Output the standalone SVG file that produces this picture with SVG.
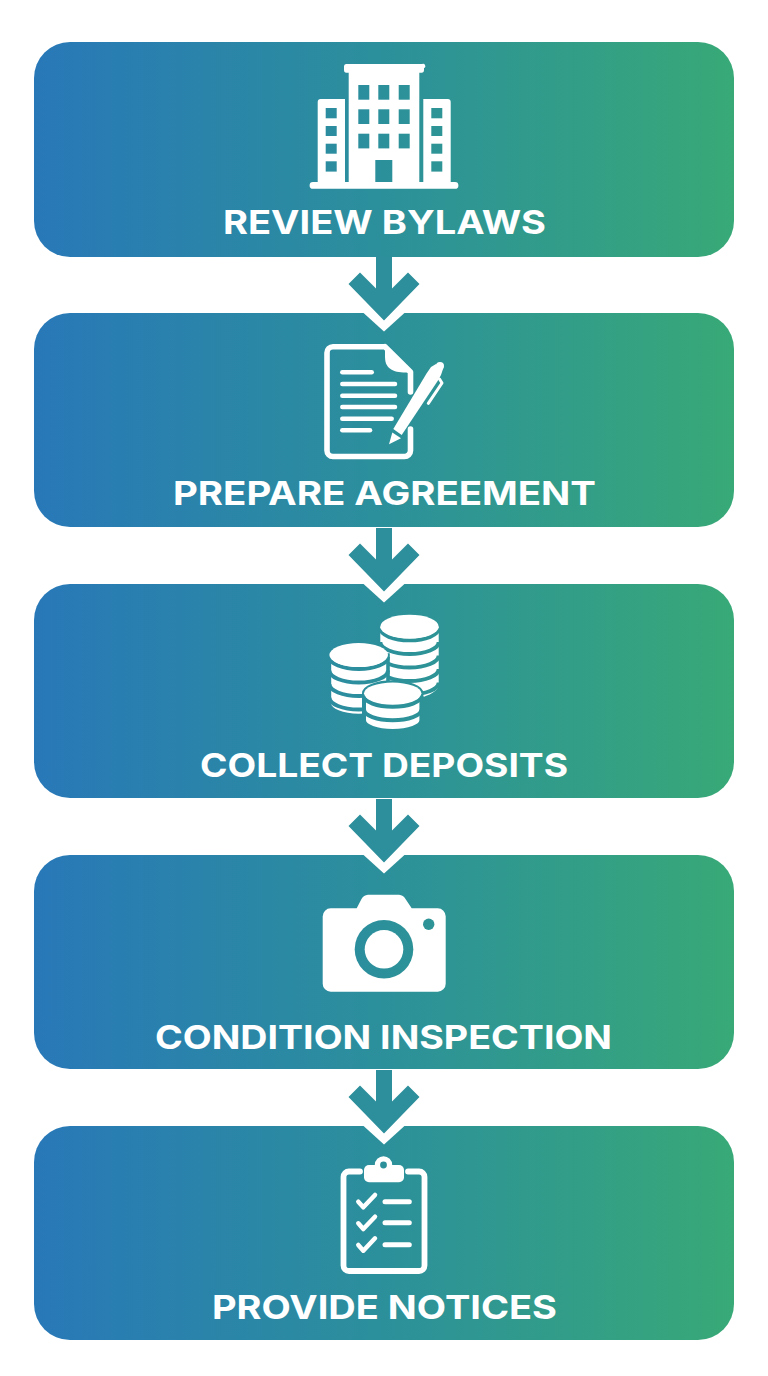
<svg xmlns="http://www.w3.org/2000/svg" xmlns:xlink="http://www.w3.org/1999/xlink" width="768" height="1376" viewBox="0 0 768 1376">
<style>
.box{fill:url(#g)}
.w{fill:#fff}
.t{fill:url(#g)}
.ln{fill:none;stroke:#fff;stroke-linecap:round;stroke-linejoin:round}
.gap{fill:none;stroke:url(#g);stroke-width:4}
.label{font-family:"Inter","Liberation Sans",sans-serif;font-weight:700;font-size:33px;fill:#fff;text-anchor:middle}
.arrow{fill:#2c8f9b}
</style>
<defs>
<linearGradient id="g" gradientUnits="userSpaceOnUse" x1="34" y1="0" x2="734" y2="0">
<stop offset="0" stop-color="#2878b8"/><stop offset="0.5" stop-color="#2c909b"/><stop offset="1" stop-color="#38a977"/>
</linearGradient>
<g id="arr">
<path fill="#fff" d="M363 312.500L384 331.500L405 312.500Z"/>
<path class="arrow" d="M376 257H392V288.500L408 272.500L419.500 284L384 320.500L348.500 284L360 272.500L376 288.500Z"/>
</g>
</defs>
<rect width="768" height="1376" fill="#fff"/>

<g id="node-review-bylaws">
<rect class="box" x="34" y="42" width="700" height="215" rx="36"/>
<path class="w" d="M346 64H422a2.300 2.300 0 0 1 2 4.300v2a2.300 2.300 0 0 1-2 2.400h-2.700V182H423.300V99H447.700a3 3 0 0 1 3 3V182H455a3.400 3.400 0 0 1 0 6.800H313a3.400 3.400 0 0 1 0-6.800H317.700V102a3 3 0 0 1 3-3H345V182H348.700V72.700H346a2.300 2.300 0 0 1-2-2.400v-4a2.300 2.300 0 0 1 2-2.300Z"/>
<g class="t">
<rect x="358.300" y="85" width="11" height="14.700"/><rect x="378.300" y="85" width="11" height="14.700"/><rect x="398.700" y="85" width="11" height="14.700"/>
<rect x="358.300" y="109.300" width="11" height="14.700"/><rect x="378.300" y="109.300" width="11" height="14.700"/><rect x="398.700" y="109.300" width="11" height="14.700"/>
<rect x="358.300" y="133.700" width="11" height="14.700"/><rect x="378.300" y="133.700" width="11" height="14.700"/><rect x="398.700" y="133.700" width="11" height="14.700"/>
<rect x="375.300" y="160" width="17" height="22"/>
<rect x="325.700" y="108" width="11" height="10.300"/><rect x="325.700" y="126" width="11" height="10"/><rect x="325.700" y="143.700" width="11" height="10"/><rect x="325.700" y="161.300" width="11" height="10.300"/>
<rect x="431.300" y="108" width="11" height="10.300"/><rect x="431.300" y="126" width="11" height="10"/><rect x="431.300" y="143.700" width="11" height="10"/><rect x="431.300" y="161.300" width="11" height="10.300"/>
</g>
<text class="label" x="384.500" y="234" textLength="323" lengthAdjust="spacingAndGlyphs">REVIEW BYLAWS</text>
</g>

<g id="node-prepare-agreement">
<rect class="box" x="34" y="313" width="700" height="214" rx="36"/>
<path class="ln" stroke-width="5.600" d="M385 346.800H333a6 6 0 0 0-6 6V450.500a6 6 0 0 0 6 6H404.500a6 6 0 0 0 6-6V429M410.500 392V372L385 346.800"/>
<path class="w" d="M385 346L412.500 372.500C398 373 385 372 385 357Z"/>
<g class="ln" stroke-width="4.500">
<path d="M342.300 372.300H371.700"/><path d="M342.300 384H395"/><path d="M342.300 395.700H395"/><path d="M342.300 407H395"/><path d="M342.300 418.700H391.700"/><path d="M342.300 430.300H370"/>
</g>
<path class="w" d="M393.300 429L401.700 435L438.300 380L441 375L443 369L436 364L431 367L426.700 373.300Z"/>
<path class="w" d="M389 444.300L392.300 432.500L401 438.300Z"/>
<circle class="w" cx="440" cy="366" r="4"/>
<path class="ln" stroke-width="3" d="M428.300 403.300L442 383L439.500 379"/>
<text class="label" x="384.500" y="505" textLength="423" lengthAdjust="spacingAndGlyphs">PREPARE AGREEMENT</text>
</g>

<g id="node-collect-deposits">
<rect class="box" x="34" y="584" width="700" height="214" rx="36"/>
<path class="w" d="M380.300 626.700H438.700V684C438.700 690 432 694 424 696.700L380.300 690Z"/>
<g class="gap">
<path d="M380.300 628.300A29.200 12 0 0 0 438.700 628.300"/><path d="M380.300 642A29.200 12 0 0 0 438.700 642"/><path d="M380.300 655.500A29.200 12 0 0 0 438.700 655.500"/><path d="M380.300 669A29.200 12 0 0 0 438.700 669"/><path d="M380.300 682.500A29.200 12 0 0 0 438.700 682.500"/>
</g>
<ellipse class="w" cx="409.500" cy="626.700" rx="29.200" ry="12"/>
<path class="w" stroke="url(#g)" stroke-width="3.600" d="M329.400 655V703.500A29.300 12 0 0 0 388 703.500V655Z"/>
<g class="gap">
<path d="M329.400 657A29.300 12 0 0 0 388 657"/><path d="M329.400 670.500A29.300 12 0 0 0 388 670.500"/><path d="M329.400 684A29.300 12 0 0 0 388 684"/><path d="M329.400 697.500A29.300 12 0 0 0 388 697.500"/>
</g>
<ellipse class="w" cx="358.700" cy="655" rx="29.300" ry="12"/>
<path class="w" stroke="url(#g)" stroke-width="4" d="M364 693.300V720.300A28.700 10.700 0 0 0 421.400 720.300V693.300A28.700 11 0 0 0 364 693.300Z"/>
<g class="gap">
<path d="M364 696A28.700 10.700 0 0 0 421.400 696"/><path d="M364 709.500A28.700 10.700 0 0 0 421.400 709.500"/>
</g>
<ellipse class="w" cx="392.700" cy="693.300" rx="28.700" ry="10.700"/>
<text class="label" x="384" y="777" textLength="368" lengthAdjust="spacingAndGlyphs">COLLECT DEPOSITS</text>
</g>

<g id="node-condition-inspection">
<rect class="box" x="34" y="855" width="700" height="214" rx="36"/>
<path class="w" d="M331 908.300H356.700L361.500 899A8 8 0 0 1 368 894.800H399A8 8 0 0 1 405.500 899L411.700 908.300H437.700a8 8 0 0 1 8 8V983.700a8 8 0 0 1-8 8H330.700a8 8 0 0 1-8-8V916.300a8 8 0 0 1 8-8Z"/>
<circle class="t" cx="384" cy="949.300" r="29.300"/>
<circle class="w" cx="384" cy="949.300" r="19.300"/>
<circle class="t" cx="428.700" cy="924.300" r="5.700"/>
<text class="label" x="383.500" y="1049" textLength="457" lengthAdjust="spacingAndGlyphs">CONDITION INSPECTION</text>
</g>

<g id="node-provide-notices">
<rect class="box" x="34" y="1126" width="700" height="214" rx="36"/>
<path class="ln" stroke-width="5.800" d="M360 1171.500H349a5.500 5.500 0 0 0-5.500 5.500V1265.500a5.500 5.500 0 0 0 5.500 5.500H419a5.500 5.500 0 0 0 5.500-5.500V1177a5.500 5.500 0 0 0-5.500-5.500H408"/>
<rect class="w" x="364" y="1165" width="40" height="17.300" rx="5"/>
<circle class="w" cx="383.500" cy="1165" r="8.700"/>
<circle class="t" cx="383.500" cy="1165" r="3.400"/>
<g class="ln" stroke-width="4.500">
<path d="M358.300 1201.700L363.300 1207.300L375 1195"/><path d="M358.300 1223.300L363.300 1229L375 1216.700"/><path d="M358.300 1245L363.300 1250.700L375 1238.300"/>
</g>
<g class="ln" stroke-width="5">
<path d="M385 1201.700H409.300"/><path d="M385 1222.700H409.300"/><path d="M385 1244.700H409.300"/>
</g>
<text class="label" x="384.500" y="1319" textLength="345" lengthAdjust="spacingAndGlyphs">PROVIDE NOTICES</text>
</g>

<g id="connectors">
<use xlink:href="#arr"/>
<use xlink:href="#arr" y="271"/>
<use xlink:href="#arr" y="542"/>
<use xlink:href="#arr" y="813"/>
</g>
</svg>
